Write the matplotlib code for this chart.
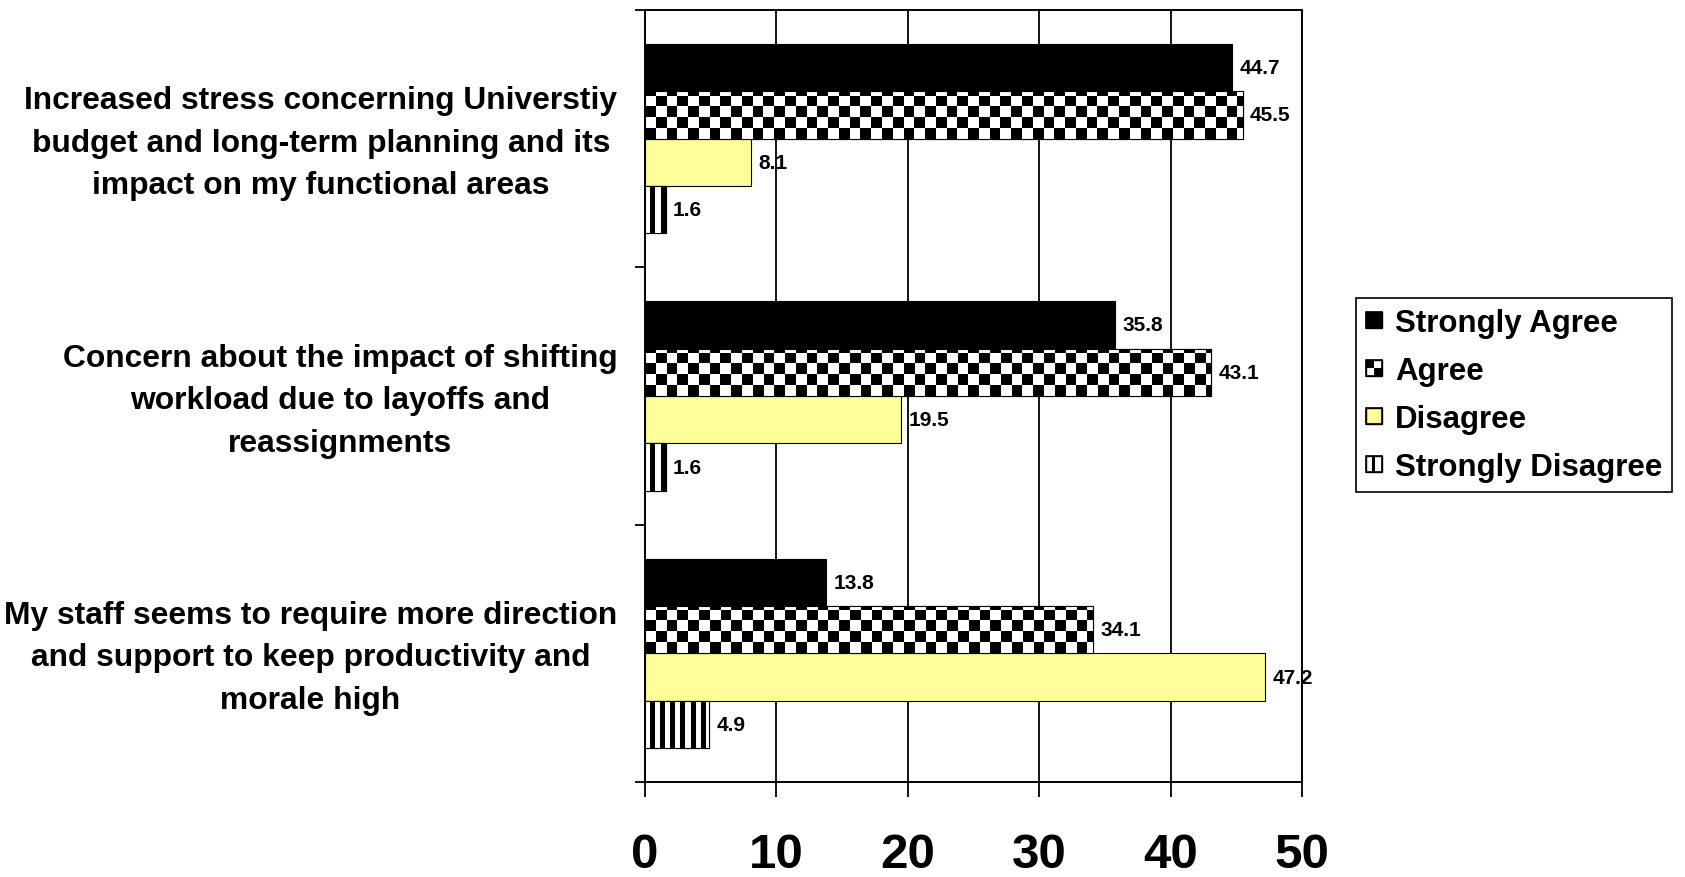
import matplotlib
matplotlib.use("Agg")
import matplotlib.pyplot as plt
import numpy as np
from matplotlib.legend_handler import HandlerBase
from matplotlib.patches import Rectangle


categories = [
    "Increased stress concerning Universtiy\nbudget and long-term planning and its\nimpact on my functional areas",
    "Concern about the impact of shifting\nworkload due to layoffs and\nreassignments",
    "My staff seems to require more direction\nand support to keep productivity and\nmorale high",
]
series_names = ["Strongly Agree", "Agree", "Disagree", "Strongly Disagree"]
strongly_agree = [44.7, 35.8, 13.8]
agree = [45.5, 43.1, 34.1]
disagree = [8.1, 19.5, 47.2]
strongly_disagree = [1.6, 1.6, 4.9]
x_ticks = [0, 10, 20, 30, 40, 50]

YELLOW = "#FFFF99"
W, H, DPI = 1685, 878, 100

plt.rcParams["font.family"] = ["Liberation Sans", "DejaVu Sans"]
plt.rcParams["font.weight"] = "bold"

fig = plt.figure(figsize=(W / DPI, H / DPI), dpi=DPI)
left, right, top, bottom = 645, 1302, 11, 783
ax = fig.add_axes([left / W, 1 - bottom / H, (right - left) / W, (bottom - top) / H])

n_cat = len(categories)
y = np.arange(n_cat)
bh = 0.184
offsets = np.array([-1.5, -0.5, 0.5, 1.5]) * bh

ax.set_xlim(0, 50)
ax.set_ylim(n_cat - 0.5, -0.5)

# patterned fills: images in data space clipped to each bar
cell = 10.7
nx = int(round((right - left) / cell))
ny = int(round((bottom - top) / cell))
checker = (np.add.outer(np.arange(ny), np.arange(nx)) % 2).astype(float)
stripe_w = 5.0
ns = int(round((right - left) / stripe_w))
stripes = (np.arange(ns)[None, :] % 2).astype(float)
extent = (0, 50, n_cat - 0.5, -0.5)


def fill_pattern(bars, pattern):
    for bar in bars:
        im = ax.imshow(1 - pattern, cmap="gray", vmin=0, vmax=1, extent=extent,
                       interpolation="nearest", aspect="auto", zorder=2.5)
        im.set_clip_path(bar)


b1 = ax.barh(y + offsets[0], strongly_agree, height=bh, color="black",
             edgecolor="black", linewidth=0.8, zorder=2)
b2 = ax.barh(y + offsets[1], agree, height=bh, color="white",
             edgecolor="black", linewidth=0.8, zorder=2)
b3 = ax.barh(y + offsets[2], disagree, height=bh, color=YELLOW,
             edgecolor="black", linewidth=0.8, zorder=2)
b4 = ax.barh(y + offsets[3], strongly_disagree, height=bh, color="white",
             edgecolor="black", linewidth=0.8, zorder=2)
fill_pattern(b2, checker)
fill_pattern(b4, stripes)
# redraw outlines over the images
for bars in (b2, b4):
    for bar in bars:
        ax.add_patch(Rectangle(bar.get_xy(), bar.get_width(), bar.get_height(),
                               fill=False, edgecolor="black", linewidth=0.8, zorder=3))
ax.set_xlim(0, 50)
ax.set_ylim(n_cat - 0.5, -0.5)

for bars, vals in zip((b1, b2, b3, b4), (strongly_agree, agree, disagree, strongly_disagree)):
    ax.bar_label(bars, labels=[f"{v:.1f}" for v in vals], padding=5,
                 fontsize=15, fontweight="bold", zorder=4)

# axes frame, grid and ticks
for sp in ax.spines.values():
    sp.set_linewidth(1.4)
    sp.set_color("black")
ax.set_xticks(x_ticks)
ax.set_xticklabels([str(t) for t in x_ticks], fontsize=35.5, fontweight="bold")
ax.xaxis.grid(True, color="black", linewidth=1.3)
ax.set_axisbelow(True)
ax.tick_params(axis="x", direction="out", length=11, width=1.3, pad=25)

ax.set_yticks(np.arange(n_cat + 1) - 0.5)
ax.set_yticklabels([])
ax.tick_params(axis="y", which="major", direction="out", length=7, width=1.3)
# category names sit on zero-length minor ticks, nudged slightly upward
ax.set_yticks(y - 0.022, minor=True)
ax.set_yticklabels(categories, minor=True, fontsize=22.9, fontweight="bold",
                   linespacing=1.55)
ax.tick_params(axis="y", which="minor", length=0, pad=20)
for lab in ax.get_yticklabels(minor=True):
    lab.set_multialignment("center")


class SwatchHandler(HandlerBase):
    def __init__(self, kind, color):
        super().__init__()
        self.kind = kind
        self.color = color

    def create_artists(self, legend, orig_handle, xdescent, ydescent,
                       width, height, fontsize, trans):
        s = min(width, height)
        x0 = -xdescent
        y0 = -ydescent + (height - s) / 2
        arts = [Rectangle((x0, y0), s, s, facecolor=self.color,
                          edgecolor="black", linewidth=1.0, transform=trans)]
        if self.kind == "checker":
            h = s / 2
            arts.append(Rectangle((x0, y0 + h), h, h, facecolor="black",
                                  edgecolor="none", transform=trans))
            arts.append(Rectangle((x0 + h, y0), h, h, facecolor="black",
                                  edgecolor="none", transform=trans))
        elif self.kind == "stripes":
            arts.append(Rectangle((x0 + s * 0.4, y0), s * 0.2, s, facecolor="black",
                                  edgecolor="none", transform=trans))
        arts.append(Rectangle((x0, y0), s, s, fill=False, edgecolor="black",
                              linewidth=1.2, transform=trans))
        return arts


handles = [Rectangle((0, 0), 1, 1) for _ in series_names]
kinds = [("solid", "black"), ("checker", "white"), ("solid", YELLOW), ("stripes", "white")]
hmap = {h: SwatchHandler(k, c) for h, (k, c) in zip(handles, kinds)}
leg = fig.legend(handles, series_names, handler_map=hmap, loc="upper left",
                 bbox_to_anchor=(1356 / W, 1 - 299 / H), borderaxespad=0,
                 prop={"weight": "bold", "size": 22.5},
                 handlelength=0.5, handleheight=0.5, handletextpad=0.42,
                 labelspacing=0.58, borderpad=0.32, fancybox=False, framealpha=1,
                 edgecolor="black")
leg.get_frame().set_linewidth(1.2)

fig.savefig("out.png", dpi=DPI)
plt.close(fig)
